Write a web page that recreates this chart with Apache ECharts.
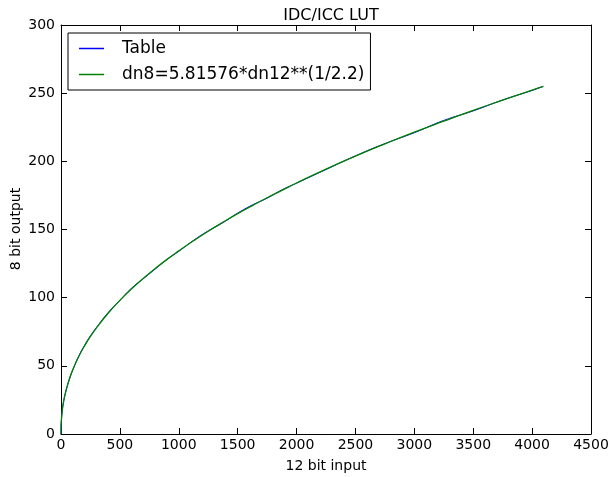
<!DOCTYPE html>
<html>
<head>
<meta charset="utf-8">
<script src="https://cdn.jsdelivr.net/npm/echarts@6/dist/echarts.min.js"></script>
<style>html,body{margin:0;padding:0;background:#fff}#c{width:615px;height:477px}</style>
</head>
<body>
<div id="c"></div>
<script>
var dn12 = [0, 1, 2, 5, 10, 20, 35, 50, 75, 100, 150, 200, 250, 300, 400, 500, 600, 700, 800, 900, 1000, 1125, 1250, 1375, 1500, 1625, 1750, 1875, 2000, 2250, 2500, 2750, 3000, 3250, 3500, 3750, 4000, 4095];
var tableVals = [0, 6, 8, 12, 17, 23, 29, 34, 41, 47, 57, 65, 72, 78, 89, 98, 107, 114, 121, 128, 134, 142, 149, 155, 162, 168, 173, 179, 184, 194, 204, 213, 221, 230, 237, 245, 252, 255];
var fitVals = [0, 5.8, 8.0, 12.1, 16.6, 22.7, 29.3, 34.4, 41.4, 47.2, 56.7, 64.6, 71.6, 77.7, 88.6, 98.0, 106.5, 114.2, 121.4, 128.1, 134.3, 141.7, 148.7, 155.3, 161.6, 167.5, 173.3, 178.7, 184.1, 194.3, 203.8, 212.8, 221.4, 229.5, 237.4, 244.9, 252.3, 255.0];
var seriesNames = ['Table', 'dn8=5.81576*dn12**(1/2.2)'];
var titleText = 'IDC/ICC LUT';
var xName = '12 bit input';
var yName = '8 bit output';

function pairs(xs, ys) { return xs.map(function (x, i) { return [x, ys[i]]; }); }

var font = 'DejaVu Sans';
var axisLine = { show: true, onZero: false, lineStyle: { color: '#000', width: 1 } };
var tick = { show: true, inside: true, length: 6, lineStyle: { color: '#000', width: 1 } };
var plain = function (v) { return String(v); };

var chart = echarts.init(document.getElementById('c'), null, { renderer: 'canvas' });
chart.setOption({
  animation: false,
  backgroundColor: '#fff',
  title: {
    text: titleText, left: 326, top: 3, textAlign: 'center',
    textStyle: { fontFamily: font, fontSize: 16, fontWeight: 'normal', color: '#000' }
  },
  graphic: [{
    type: 'text', x: 16, y: 229, rotation: Math.PI / 2,
    style: { text: yName, fontFamily: font, fontSize: 14, fill: '#000', align: 'center', verticalAlign: 'middle' }
  }],
  grid: { left: 61, top: 25, right: 24, bottom: 43, containLabel: false, outerBoundsMode: 'none' },
  legend: {
    orient: 'vertical', left: 68, top: 33,
    padding: [7, 6, 7, 11],
    itemGap: 9, itemWidth: 25, itemHeight: 1.5,
    icon: 'rect',
    borderColor: '#000', borderWidth: 1, borderRadius: 0,
    backgroundColor: '#fff',
    textStyle: { fontFamily: font, fontSize: 17, color: '#000', padding: [0, 0, 0, 13] },
    data: seriesNames
  },
  xAxis: [{
    type: 'value', min: 0, max: 4500, interval: 500,
    name: xName, nameLocation: 'middle', nameGap: 25,
    nameTextStyle: { fontFamily: font, fontSize: 14, color: '#000' },
    axisLine: axisLine, axisTick: tick,
    axisLabel: { fontFamily: font, fontSize: 14, color: '#000', margin: 4, formatter: plain, showMaxLabel: true, showMinLabel: true },
    splitLine: { show: false }
  }, {
    type: 'value', position: 'top', min: 0, max: 4500, interval: 500,
    axisLine: axisLine, axisTick: tick, axisLabel: { show: false }, splitLine: { show: false }
  }],
  yAxis: [{
    type: 'value', min: 0, max: 300, interval: 50,
    axisLine: axisLine, axisTick: tick,
    axisLabel: { fontFamily: font, fontSize: 14, color: '#000', margin: 6, formatter: plain },
    splitLine: { show: false }
  }, {
    type: 'value', position: 'right', min: 0, max: 300, interval: 50,
    axisLine: axisLine, axisTick: tick, axisLabel: { show: false }, splitLine: { show: false }
  }],
  series: [{
    name: seriesNames[0], type: 'line', data: pairs(dn12, tableVals),
    showSymbol: false, symbol: 'none', smooth: true,
    lineStyle: { color: '#0000ff', width: 1 }, itemStyle: { color: '#0000ff' }
  }, {
    name: seriesNames[1], type: 'line', data: pairs(dn12, fitVals),
    showSymbol: false, symbol: 'none', smooth: true,
    lineStyle: { color: '#008000', width: 1.3 }, itemStyle: { color: '#008000' }
  }]
});
</script>
</body>
</html>
